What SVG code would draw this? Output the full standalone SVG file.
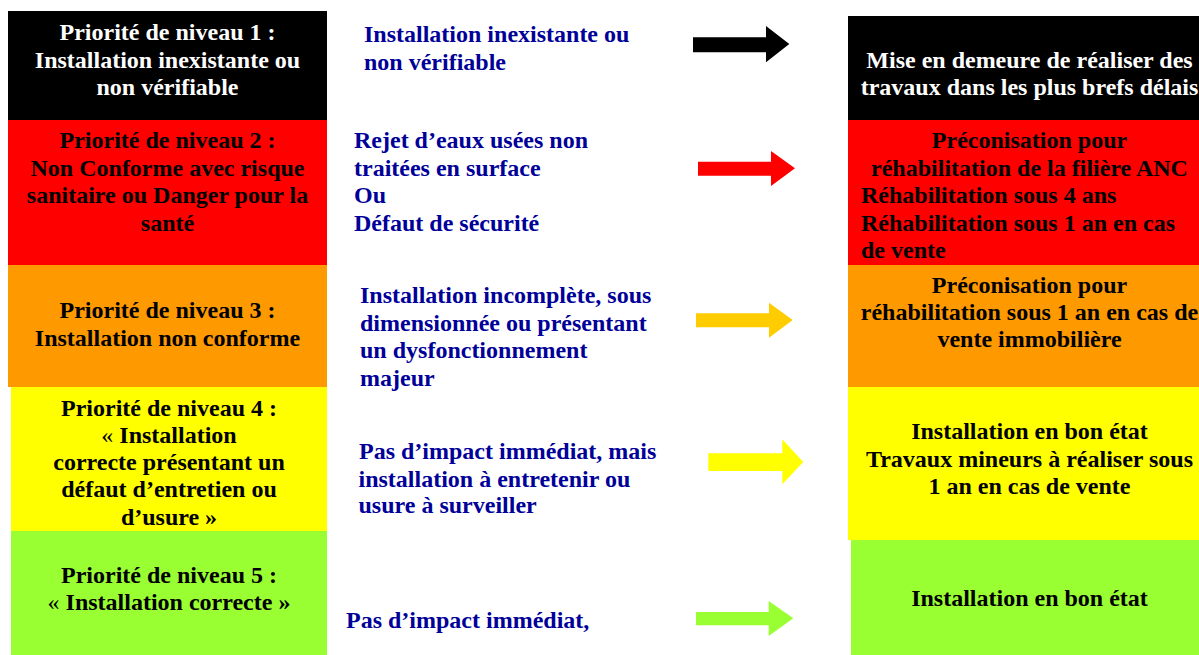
<svg xmlns="http://www.w3.org/2000/svg" width="1199" height="655" viewBox="0 0 1199 655">
<style>
text{font-family:"Liberation Serif","Times New Roman",serif;font-size:24px;font-weight:bold}
.c{text-anchor:middle}
.w{fill:#ffffff}
.k{fill:#000000}
.b{fill:#000099}
.n{font-weight:normal}
</style>
<rect width="1199" height="655" fill="#ffffff"/>
<g id="level1">
<rect x="8" y="11" width="319" height="109" fill="#000000"/>
<text class="c w" x="167.5" y="40">Priorité de niveau 1 :</text>
<text class="c w" x="167.5" y="67.5">Installation inexistante ou</text>
<text class="c w" x="167.5" y="95">non vérifiable</text>
</g>
<g id="level2">
<rect x="8" y="120" width="319" height="145" fill="#ff0000"/>
<text class="c k" x="167.5" y="148.3">Priorité de niveau 2 :</text>
<text class="c k" x="167.5" y="175.7">Non Conforme avec risque</text>
<text class="c k" x="167.5" y="203.3">sanitaire ou Danger pour la</text>
<text class="c k" x="167.5" y="230.7">santé</text>
</g>
<g id="level3">
<rect x="8" y="265" width="319" height="122" fill="#ff9900"/>
<text class="c k" x="167.5" y="318.3">Priorité de niveau 3 :</text>
<text class="c k" x="167.5" y="345.7">Installation non conforme</text>
</g>
<g id="level4">
<rect x="11" y="387" width="316" height="144" fill="#ffff00"/>
<text class="c k" x="169" y="415.7">Priorité de niveau 4 :</text>
<text class="c k" x="169" y="442.7"><tspan class="n">«</tspan> Installation</text>
<text class="c k" x="169" y="470">correcte présentant un</text>
<text class="c k" x="169" y="497.3">défaut d’entretien ou</text>
<text class="c k" x="169" y="525">d’usure »</text>
</g>
<g id="level5">
<rect x="11" y="531" width="316" height="124" fill="#99ff33"/>
<text class="c k" x="169" y="582.7">Priorité de niveau 5 :</text>
<text class="c k" x="169" y="610"><tspan class="n">«</tspan> Installation correcte »</text>
</g>
<g id="desc1">
<text class="b" x="364" y="41.5">Installation inexistante ou</text>
<text class="b" x="364" y="69.5">non vérifiable</text>
</g>
<g id="desc2">
<text class="b" x="354" y="148.3">Rejet d’eaux usées non</text>
<text class="b" x="354" y="175.7">traitées en surface</text>
<text class="b" x="354" y="203.3">Ou</text>
<text class="b" x="354" y="230.7">Défaut de sécurité</text>
</g>
<g id="desc3">
<text class="b" x="360" y="303.3">Installation incomplète, sous</text>
<text class="b" x="360" y="331">dimensionnée ou présentant</text>
<text class="b" x="360" y="358.3">un dysfonctionnement</text>
<text class="b" x="360" y="386">majeur</text>
</g>
<g id="desc4">
<text class="b" x="359" y="459">Pas d’impact immédiat, mais</text>
<text class="b" x="358.5" y="486.7">installation à entretenir ou</text>
<text class="b" x="358.5" y="513.3">usure à surveiller</text>
</g>
<g id="desc5">
<text class="b" x="346" y="628.3">Pas d’impact immédiat,</text>
</g>
<g id="connectors">
<polygon fill="#000000" points="693,37.3 766,37.3 766,26 789.3,44 766,62.3 766,52.3 693,52.3"/>
<polygon fill="#ff0000" points="698,161.7 771,161.7 771,151 795,168.3 771,186 771,175.7 698,175.7"/>
<polygon fill="#ffcc00" points="696,313.3 769,313.3 769,302.7 792.7,320 769,337.7 769,327.3 696,327.3"/>
<polygon fill="#ffff00" points="708.3,453.3 782.3,453.3 782.3,439.3 803.3,462 782.3,484.3 782.3,471 708.3,471"/>
<polygon fill="#99ff33" points="696,612 768.7,612 768.7,601 793.3,618.3 768.7,636 768.7,625.3 696,625.3"/>
</g>
<g id="action1">
<rect x="848" y="16" width="351" height="104" fill="#000000"/>
<text class="c w" x="1029.5" y="68.3">Mise en demeure de réaliser des</text>
<text class="c w" x="1029.5" y="95">travaux dans les plus brefs délais</text>
</g>
<g id="action2">
<rect x="848" y="120" width="351" height="145" fill="#ff0000"/>
<text class="c k" x="1029.5" y="148.3">Préconisation pour</text>
<text class="c k" x="1029.5" y="175.7">réhabilitation de la filière ANC</text>
<text class="k" x="861" y="203.3">Réhabilitation sous 4 ans</text>
<text class="k" x="861" y="230.7">Réhabilitation sous 1 an en cas</text>
<text class="k" x="861" y="258.3">de vente</text>
</g>
<g id="action3">
<rect x="848" y="265" width="351" height="122" fill="#ff9900"/>
<text class="c k" x="1029.5" y="292.7">Préconisation pour</text>
<text class="c k" x="1029.5" y="320">réhabilitation sous 1 an en cas de</text>
<text class="c k" x="1029.5" y="347.3">vente immobilière</text>
</g>
<g id="action4">
<rect x="848" y="387" width="351" height="153" fill="#ffff00"/>
<text class="c k" x="1029.5" y="439.3">Installation en bon état</text>
<text class="c k" x="1029.5" y="466.7">Travaux mineurs à réaliser sous</text>
<text class="c k" x="1029.5" y="494">1 an en cas de vente</text>
</g>
<g id="action5">
<rect x="851" y="540" width="348" height="115" fill="#99ff33"/>
<text class="c k" x="1029.5" y="606">Installation en bon état</text>
</g>
</svg>
